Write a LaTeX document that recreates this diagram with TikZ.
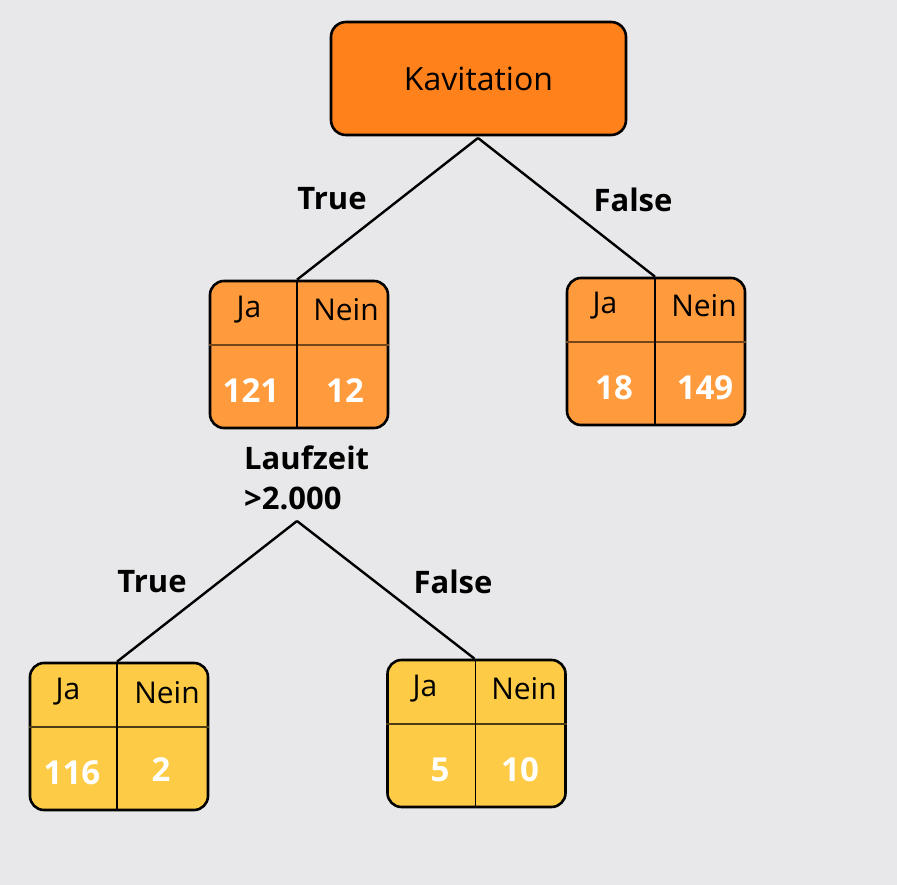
\documentclass[tikz,border=0pt]{standalone}
\usepackage{fontspec}
\setmainfont{Open Sans}
\definecolor{bg}{HTML}{E8E8EA}
\definecolor{rootc}{HTML}{FF811B}
\definecolor{midc}{HTML}{FF9B3D}
\definecolor{lowc}{HTML}{FDCB46}
\begin{document}
\begin{tikzpicture}[x=1pt,y=-1pt,
  root/.style={draw, line width=2.6pt, rounded corners=15pt, fill=rootc, minimum width=295pt, minimum height=113pt, inner sep=0pt, font=\fontsize{32}{38}\selectfont},
  tbl/.style={draw, line width=2.6pt, rounded corners=14pt, minimum width=178pt, minimum height=147pt, inner sep=0pt},
  hdr/.style={font=\fontsize{30}{36}\selectfont, inner sep=0pt},
  num/.style={font=\bfseries\fontsize{33}{38}\selectfont, text=white, inner sep=0pt},
  lbl/.style={font=\bfseries\fontsize{31}{40}\selectfont, inner sep=0pt},
  edge/.style={line width=2.4pt},
  divv/.style={line width=1.1pt, black},
]
\useasboundingbox[fill=bg] (0,0) rectangle (897,885);

% root
\node[root] (root) at (478.5,78.5) {Kavitation};
\coordinate (rootb) at (478,138);

% tables
\node[tbl, fill=midc] (t1) at (299,354.5) {};
\node[tbl, fill=midc] (t2) at (656,351.5) {};
\node[tbl, fill=lowc] (t3) at (119,736.5) {};
\node[tbl, fill=lowc] (t4) at (476.5,733.5) {};

% dividers
\draw[line width=1.6pt, midc!45!black] ([yshift=9.5pt]t1.west) -- ([yshift=9.5pt]t1.east);
\draw[divv] ([xshift=-2pt]t1.north) -- ([xshift=-2pt]t1.south);
\draw[line width=1.6pt, midc!45!black] ([yshift=9.5pt]t2.west) -- ([yshift=9.5pt]t2.east);
\draw[divv] ([xshift=-1pt]t2.north) -- ([xshift=-1pt]t2.south);
\draw[line width=1.3pt, lowc!30!black] ([yshift=9.5pt]t3.west) -- ([yshift=9.5pt]t3.east);
\draw[divv] ([xshift=-2pt]t3.north) -- ([xshift=-2pt]t3.south);
\draw[line width=1.3pt, lowc!30!black] ([yshift=9.5pt]t4.west) -- ([yshift=9.5pt]t4.east);
\draw[divv] ([xshift=-1pt]t4.north) -- ([xshift=-1pt]t4.south);

% table texts
\node[hdr] (t1ja) at (249,310) {Ja};
\node[hdr] (t1nein) at (346,310) {Nein};
\node[num] (t1a) at (251,391) {121};
\node[num] (t1b) at (345,391) {12};

\node[hdr] (t2ja) at (605,306) {Ja};
\node[hdr] (t2nein) at (704,306) {Nein};
\node[num] (t2a) at (614,388) {18};
\node[num] (t2b) at (705,388) {149};

\node[hdr] (t3ja) at (68,692) {Ja};
\node[hdr] (t3nein) at (167,693) {Nein};
\node[num] (t3a) at (72,773) {116};
\node[num] (t3b) at (161,770) {2};

\node[hdr] (t4ja) at (425,689) {Ja};
\node[hdr] (t4nein) at (524,689) {Nein};
\node[num] (t4a) at (440,770) {5};
\node[num] (t4b) at (520,770) {10};

% split label
\node[lbl, align=left, anchor=west] (split) at (244,478) {Laufzeit\\>2.000};
\coordinate (splitb) at (297,521);

% edges
\draw[edge] (rootb) -- ([xshift=-2pt]t1.north);
\draw[edge] (rootb) -- ([xshift=-1pt]t2.north);
\draw[edge] (splitb) -- ([xshift=-2pt]t3.north);
\draw[edge] (splitb) -- ([xshift=-2pt]t4.north);

% edge labels
\node[lbl] (l1) at (332,199) {True};
\node[lbl] (l2) at (633,200) {False};
\node[lbl] (l3) at (152,582) {True};
\node[lbl] (l4) at (453,582) {False};
\end{tikzpicture}
\end{document}
